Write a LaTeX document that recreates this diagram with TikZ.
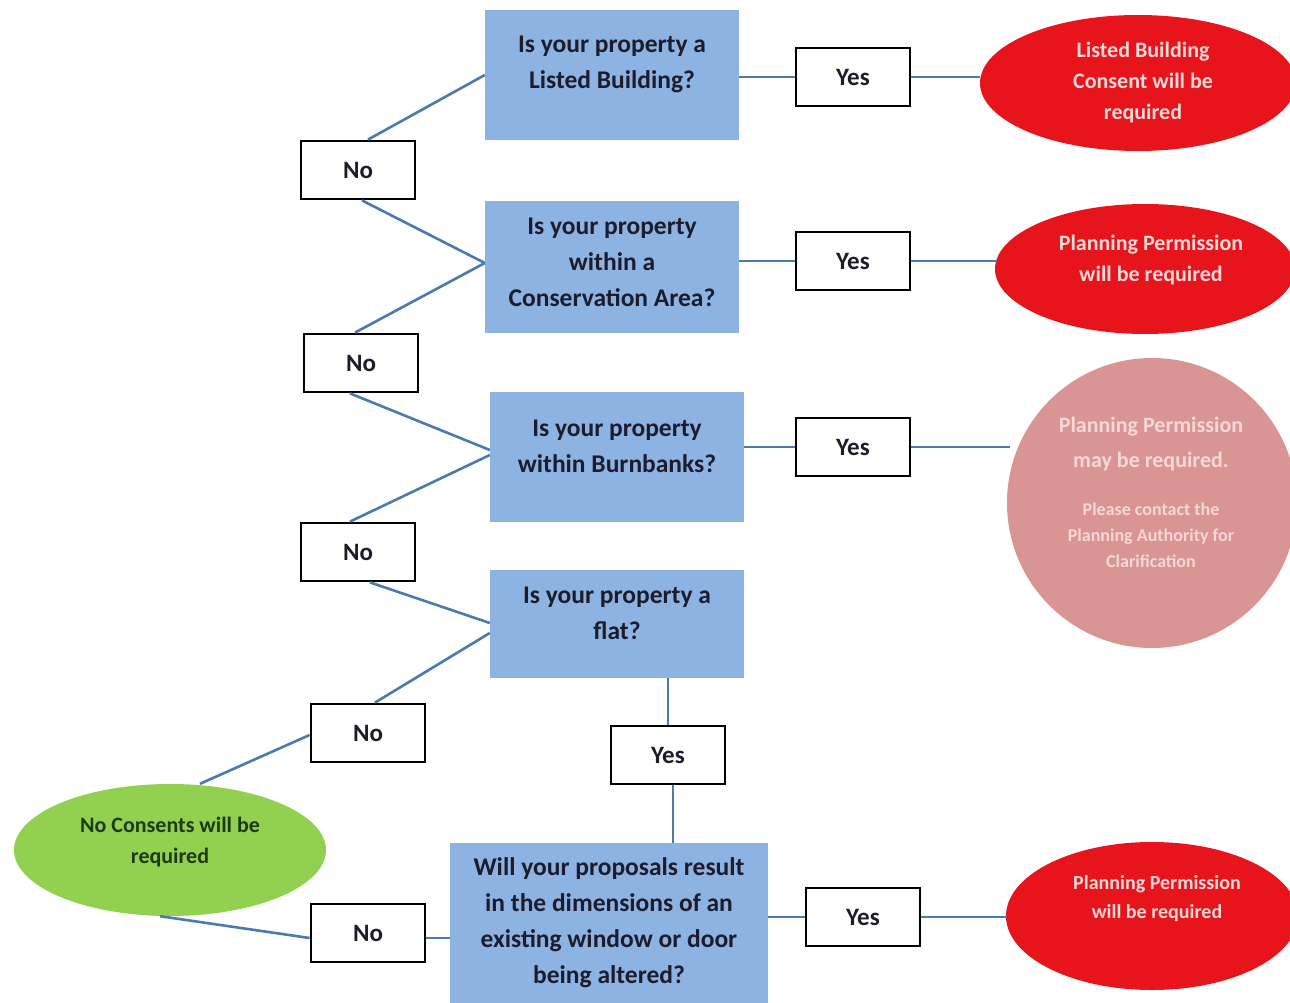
\documentclass[tikz,border=0pt]{standalone}
\usepackage{fontspec}
\setmainfont{Carlito}
\usetikzlibrary{shapes.geometric}
\definecolor{qblue}{HTML}{8DB3E2}
\definecolor{lineblue}{HTML}{4A7AB0}
\definecolor{redc}{HTML}{E8141C}
\definecolor{pinkc}{HTML}{D99594}
\definecolor{greenc}{HTML}{92D050}
\definecolor{txtdark}{HTML}{1C1C2C}
\definecolor{txtlight}{HTML}{F6D8D8}
\definecolor{txtgreen}{HTML}{1E3A14}
\begin{document}
\begin{tikzpicture}[x=1pt,y=-1pt,
  qbox/.style={fill=qblue, draw=none, minimum width=254pt, minimum height=130pt, inner sep=0pt},
  qtext/.style={align=center, inner sep=0pt, font=\fontsize{25.5}{36}\selectfont\bfseries, text=txtdark},
  ans/.style={draw=black, line width=2.8pt, fill=white, minimum width=114pt, minimum height=58pt, inner sep=0pt, font=\fontsize{25}{28}\selectfont\bfseries, text=txtdark},
  link/.style={draw=lineblue, line width=2.6pt},
  redell/.style={ellipse, fill=redc, draw=none, inner sep=0pt},
  rtext/.style={align=center, inner sep=0pt, text=txtlight, font=\fontsize{22}{31}\selectfont\bfseries},
]
\useasboundingbox (0,0) rectangle (1290,1003);
\fill[white] (0,0) rectangle (1290,1003);

% question boxes
\node[qbox] (q1) at (612,75) {};
\node[qtext] (q1t) at (612,64) {Is your property a\\Listed Building?};
\node[qbox, minimum height=131pt] (q2) at (612,267) {};
\node[qtext] (q2t) at (612,262) {Is your property\\within a\\Conservation Area?};
\node[qbox] (q3) at (617,457) {};
\node[qtext] (q3t) at (617,446) {Is your property\\within Burnbanks?};
\node[qbox, minimum height=108pt] (q4) at (617,624) {};
\node[qtext] (q4t) at (617,613) {Is your property a\\flat?};
\node[qbox, minimum width=318pt, minimum height=166pt] (q5) at (609,926) {};
\node[qtext] (q5t) at (609,923) {Will your proposals result\\in the dimensions of an\\existing window or door\\being altered?};

% answer boxes
\node[ans] (y1) at (853,77) {Yes};
\node[ans] (y2) at (853,261) {Yes};
\node[ans] (y3) at (853,447) {Yes};
\node[ans] (y4) at (668,755) {Yes};
\node[ans] (y5) at (863,917) {Yes};
\node[ans] (n1) at (358,170) {No};
\node[ans] (n2) at (361,363) {No};
\node[ans] (n3) at (358,552) {No};
\node[ans] (n4) at (368,733) {No};
\node[ans] (n5) at (368,933) {No};

% outcomes
\node[redell, minimum width=316pt, minimum height=136pt] (e1) at (1138,83) {};
\node[rtext] (e1t) at (1143,83) {Listed Building\\Consent will be\\required};
\node[redell, minimum width=300pt, minimum height=130pt] (e2) at (1145,269) {};
\node[rtext] (e2t) at (1151,260) {Planning Permission\\will be required};
\node[circle, fill=pinkc, draw=none, minimum size=290pt, inner sep=0pt] (c3) at (1152,503) {};
\node[align=center, inner sep=0pt, text=txtlight, font=\fontsize{22}{35}\selectfont\bfseries] (c3a) at (1151,444) {Planning Permission\\may be required.};
\node[align=center, inner sep=0pt, text=txtlight, font=\fontsize{18}{26}\selectfont\bfseries] (c3b) at (1151,535) {Please contact the\\Planning Authority for\\Clarification};
\node[redell, minimum width=292pt, minimum height=148pt] (e5) at (1152,916) {};
\node[rtext, font=\fontsize{20}{29}\selectfont\bfseries] (e5t) at (1157,899) {Planning Permission\\will be required};
\node[ellipse, fill=greenc, draw=none, minimum width=312pt, minimum height=132pt, inner sep=0pt] (g) at (170,850) {};
\node[align=center, inner sep=0pt, text=txtgreen, font=\fontsize{22}{31}\selectfont\bfseries] (gt) at (170,842) {No Consents will be\\required};

% connectors
\draw[link] (q1.east |- y1.west) -- (y1.west);
\draw[link] (y1.east) -- (e1.west |- y1.east);
\draw[link] (q2.east |- y2.west) -- (y2.west);
\draw[link] (y2.east) -- ([xshift=2pt]e2.west |- y2.east);
\draw[link] (q3.east |- y3.west) -- (y3.west);
\draw[link] (y3.east) -- (1010,447);
\draw[link] (q5.east |- y5.west) -- (y5.west);
\draw[link] (y5.east) -- ([xshift=1pt]e5.west |- y5.east);

\draw[link] (q1.west) -- ([xshift=10pt]n1.north);
\draw[link] ([xshift=4pt]n1.south) -- ([yshift=4pt]q2.west);
\draw[link] ([yshift=4pt]q2.west) -- ([xshift=-6pt]n2.north);
\draw[link] ([xshift=-11pt]n2.south) -- ([yshift=7pt]q3.west);
\draw[link] ([yshift=2pt]q3.west) -- ([xshift=-8pt]n3.north);
\draw[link] ([xshift=12pt]n3.south) -- ([yshift=1pt]q4.west);
\draw[link] ([yshift=-9pt]q4.west) -- ([xshift=7pt]n4.north);
\draw[link] ([yshift=-2pt]n4.west) -- (g.north -| 200,0);
\draw[link] (g.south -| 160,0) -- ([yshift=-5pt]n5.west);
\draw[link] ([yshift=-5pt]n5.east) -- (q5.west |- 0,938);
\draw[link] (q4.south -| y4.north) -- (y4.north);
\draw[link] ([xshift=5pt]y4.south) -- ([xshift=5pt]q5.north -| y4.south);
\end{tikzpicture}
\end{document}
